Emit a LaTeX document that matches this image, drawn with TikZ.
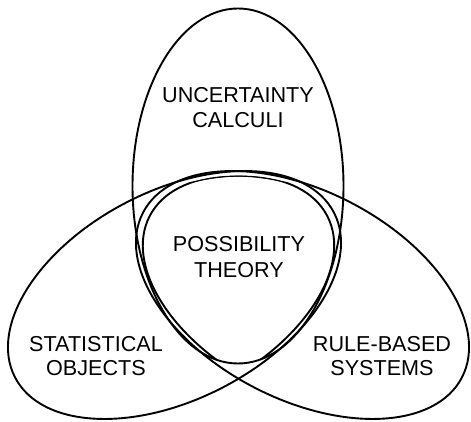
\documentclass[tikz,border=0pt]{standalone}
\usepackage{fontspec}
\setmainfont{Liberation Sans}
\begin{document}
\begin{tikzpicture}[x=1pt,y=1pt,
  outline/.style={line width=1.9pt,black},
  lbl/.style={anchor=base,inner sep=0pt,font=\fontsize{21.6}{24}\selectfont}]
\useasboundingbox (0,0) rectangle (471,422);
\coordinate (ct) at (238,236);
\coordinate (cl) at (174.5,127);
\coordinate (cr) at (302.5,127);
% three ellipses
\draw[outline] (ct) ellipse [x radius=105.5pt, y radius=177.5pt];
\draw[outline, rotate around={27.3:(cl)}] (cl) ellipse [x radius=179.5pt, y radius=104.3pt];
\draw[outline, rotate around={-27.3:(cr)}] (cr) ellipse [x radius=179.5pt, y radius=104.3pt];
% central region (possibility theory)
\begin{scope}
  \clip (ct) ellipse [x radius=105.5pt, y radius=177.5pt];
  \clip[rotate around={-27.3:(cr)}] (cr) ellipse [x radius=172pt, y radius=100.8pt];
  \draw[outline, rotate around={27.3:(cl)}] (cl) ellipse [x radius=172pt, y radius=100.8pt];
\end{scope}
\begin{scope}
  \clip (ct) ellipse [x radius=105.5pt, y radius=177.5pt];
  \clip[rotate around={27.3:(cl)}] (cl) ellipse [x radius=172pt, y radius=100.8pt];
  \draw[outline, rotate around={-27.3:(cr)}] (cr) ellipse [x radius=172pt, y radius=100.8pt];
\end{scope}
% labels
\node[lbl] (u1) at (238,319) {UNCERTAINTY};
\node[lbl] (u2) at (238,294) {CALCULI};
\node[lbl] (p1) at (239,170) {POSSIBILITY};
\node[lbl] (p2) at (239,144) {THEORY};
\node[lbl] (s1) at (96,70) {STATISTICAL};
\node[lbl] (s2) at (96,46) {OBJECTS};
\node[lbl] (r1) at (382,70) {RULE-BASED};
\node[lbl] (r2) at (382,46) {SYSTEMS};
\end{tikzpicture}
\end{document}
